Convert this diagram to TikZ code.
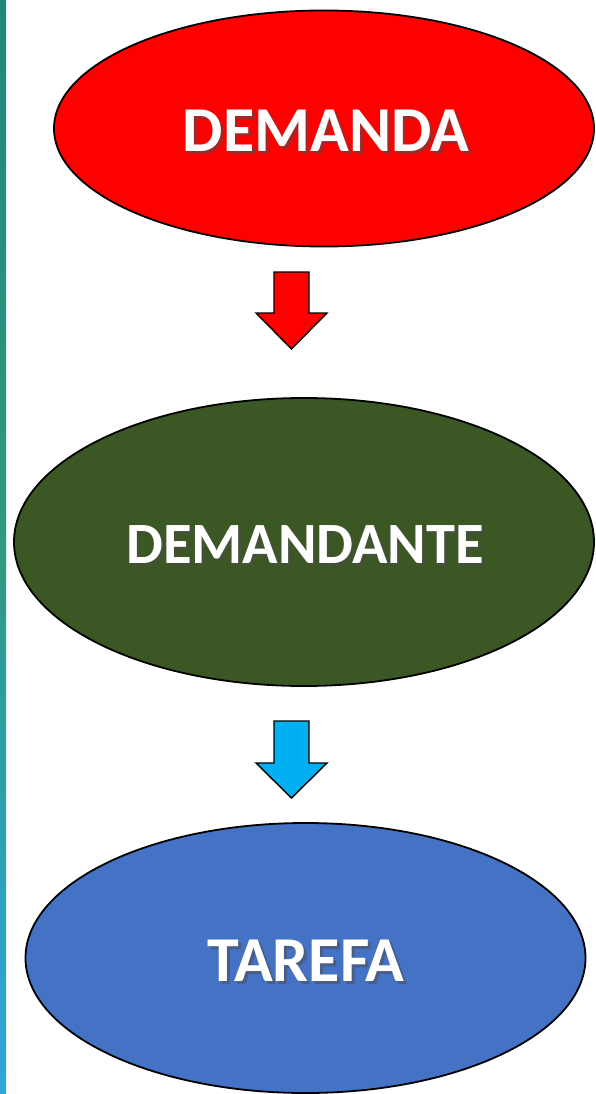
\documentclass[tikz,border=0pt]{standalone}
\usepackage{fontspec}
\setmainfont{Carlito}
\usetikzlibrary{shapes.geometric,shadings}
\definecolor{redfill}{HTML}{FF0000}
\definecolor{greenfill}{HTML}{3A5724}
\definecolor{bluefill}{HTML}{4472C4}
\definecolor{cyanfill}{HTML}{00B0F0}
\definecolor{barTop}{HTML}{22857A}
\definecolor{barMid}{HTML}{2E9A82}
\definecolor{barBot}{HTML}{2DA6DC}
\tikzset{
  blob/.style={draw=black, line width=1.8pt},
  label/.style={text=white, font=\bfseries\fontsize{#1}{#1}\selectfont, inner sep=0pt},
  txtshadow/.style={text=black!70, opacity=0.5, font=\bfseries\fontsize{#1}{#1}\selectfont, inner sep=0pt},
  downarrow/.style={draw=black, line width=1.4pt, line join=miter}
}
\begin{document}
\begin{tikzpicture}[x=1pt,y=-1pt]
\useasboundingbox (0,0) rectangle (595,1094);
\fill[white] (0,0) rectangle (595,1094);
% left bar
\fill[top color=barTop, bottom color=barMid] (0,0) rectangle (6,547);
\fill[top color=barMid, bottom color=barBot] (0,547) rectangle (6,1094);
% ellipses
\draw[blob, fill=redfill] (324,128.5) ellipse [x radius=270, y radius=118];
\draw[blob, fill=greenfill] (304,542) ellipse [x radius=290, y radius=144];
\draw[blob, fill=bluefill] (305.5,958) ellipse [x radius=280, y radius=135];
% labels
\node[txtshadow=64] at (329,134) {DEMANDA};
\node[label=64] (ta) at (326,131) {DEMANDA};
\node[txtshadow=58.5] at (308,548) {DEMANDANTE};
\node[label=58.5] (tb) at (305,545) {DEMANDANTE};
\node[txtshadow=64] at (309,964) {TAREFA};
\node[label=64] (tc) at (306,961) {TAREFA};
% arrows
\draw[downarrow, fill=redfill] (274,272) -- (309,272) -- (309,313) -- (327,313) -- (291.5,349) -- (256,313) -- (274,313) -- cycle;
\draw[downarrow, fill=cyanfill] (274,721) -- (309,721) -- (309,763) -- (327,763) -- (291.5,798) -- (256,763) -- (274,763) -- cycle;
\end{tikzpicture}
\end{document}
